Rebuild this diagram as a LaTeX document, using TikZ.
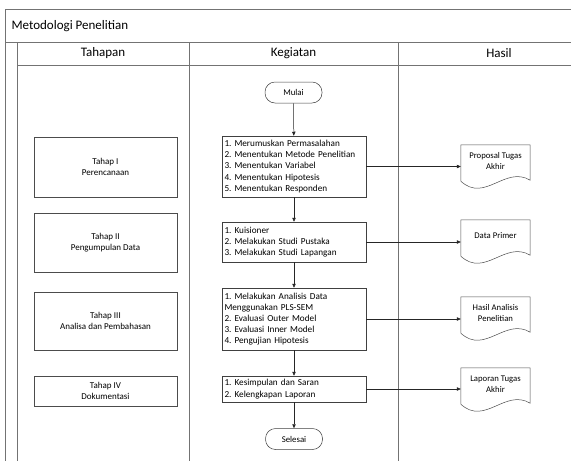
\documentclass[tikz,border=0pt]{standalone}
\usepackage{fontspec}
\setmainfont{Carlito}
\usetikzlibrary{arrows.meta}
\frenchspacing

% outline of a document node with a wavy bottom edge
\newcommand{\docwave}[1]{%
  \draw[docline] (#1.south west) -- (#1.north west) -- (#1.north east) -- (#1.south east)
    -- ([yshift=-3pt]#1.south east)
    .. controls ([xshift=-25pt,yshift=12pt]#1.south east) and ([xshift=24pt,yshift=-26pt]#1.south west) ..
    ([yshift=-4pt]#1.south west) -- cycle;}

\begin{document}
\begin{tikzpicture}[x=1pt, y=-1pt,
    frame/.style={draw=black!55, line width=0.7pt},
    tahapbox/.style={draw=black!70, line width=0.5pt, minimum width=143pt, align=center,
      font=\fontsize{9}{11}\selectfont},
    kegbox/.style={draw=black!75, line width=0.5pt, text width=139pt, inner xsep=2.5pt,
      align=left, font=\fontsize{9.2}{11.2}\selectfont},
    terminal/.style={draw=black!75, line width=0.5pt, rounded corners=10pt,
      minimum width=57pt, minimum height=21pt, font=\fontsize{8.8}{10}\selectfont},
    docbox/.style={minimum width=69pt, minimum height=32pt, inner sep=1pt, align=center,
      font=\fontsize{8.7}{10.5}\selectfont},
    docline/.style={draw=black!70, line width=0.5pt},
    flow/.style={-{Triangle[length=4pt,width=3.5pt]}, draw=black!85, line width=0.5pt}]

    \useasboundingbox (0,0) rectangle (571,461);

    % Frame
    \draw[frame] (571,9) -- (5,9) -- (5,461);
    \draw[frame] (5,42) -- (571,42);
    \draw[frame] (17,42) -- (17,461);
    \draw[frame] (17,65) -- (571,65);
    \draw[frame] (189,42) -- (189,461);
    \draw[frame] (398,42) -- (398,461);

    % Title and headers
    \node[anchor=west, font=\fontsize{13}{15}\selectfont] (title) at (8,26) {Metodologi Penelitian};
    \node[font=\fontsize{13}{15}\selectfont] (hTahapan) at (103,53.5) {Tahapan};
    \node[font=\fontsize{13}{15}\selectfont] (hKegiatan) at (293.5,53.5) {Kegiatan};
    \node[font=\fontsize{13}{15}\selectfont] (hHasil) at (499,53.5) {Hasil};

    % Tahapan
    \node[tahapbox, minimum height=60pt] (tahap1) at (105.5,167) {Tahap I\\Perencanaan};
    \node[tahapbox, minimum height=59pt] (tahap2) at (105.5,242.5) {Tahap II\\Pengumpulan Data};
    \node[tahapbox, minimum height=58pt] (tahap3) at (105.5,321) {Tahap III\\Analisa dan Pembahasan};
    \node[tahapbox, minimum height=30pt] (tahap4) at (105.5,391) {Tahap IV\\Dokumentasi};

    % Kegiatan
    \node[terminal] (mulai) at (293.5,92.5) {Mulai};
    \node[kegbox, minimum height=61pt] (keg1) at (294,166.5) {1. Merumuskan Permasalahan\\2. Menentukan Metode Penelitian\\3. Menentukan Variabel\\4. Menentukan Hipotesis\\5. Menentukan Responden};
    \node[kegbox, minimum height=40pt] (keg2) at (294,242) {1. Kuisioner\\2. Melakukan Studi Pustaka\\3. Melakukan Studi Lapangan};
    \node[kegbox, minimum height=62pt] (keg3) at (294,319) {1. Melakukan Analisis Data\\Menggunakan PLS-SEM\\2. Evaluasi Outer Model\\3. Evaluasi Inner Model\\4. Pengujian Hipotesis};
    \node[kegbox, minimum height=26pt] (keg4) at (294,389) {1. Kesimpulan dan Saran\\2. Kelengkapan Laporan};
    \node[terminal] (selesai) at (294,439) {Selesai};

    % Hasil
    \node[docbox] (hasil1) at (495.5,161) {Proposal Tugas\\Akhir};
    \node[docbox] (hasil2) at (495.5,236) {Data Primer};
    \node[docbox] (hasil3) at (495.5,313) {Hasil Analisis\\Penelitian};
    \node[docbox] (hasil4) at (495.5,384) {Laporan Tugas\\Akhir};
    \docwave{hasil1}
    \docwave{hasil2}
    \docwave{hasil3}
    \docwave{hasil4}

    % Connections
    \draw[flow] (mulai) -- (keg1);
    \draw[flow] (keg1) -- (keg2);
    \draw[flow] (keg2) -- (keg3);
    \draw[flow] (keg3) -- (keg4);
    \draw[flow] (keg4) -- (selesai);

    \draw[flow] (keg1.east) -- (keg1.east -| hasil1.west);
    \draw[flow] (keg2.east) -- (keg2.east -| hasil2.west);
    \draw[flow] (keg3.east) -- (keg3.east -| hasil3.west);
    \draw[flow] (keg4.east) -- (keg4.east -| hasil4.west);

\end{tikzpicture}
\end{document}
